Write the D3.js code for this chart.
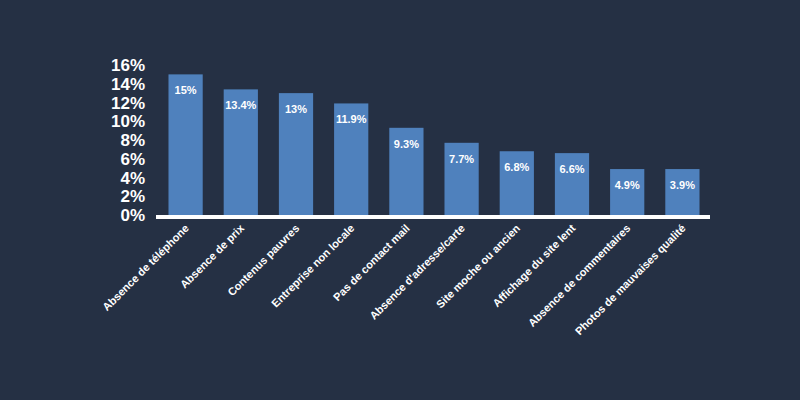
<!DOCTYPE html>
<html><head><meta charset="utf-8">
<script src="https://cdn.jsdelivr.net/npm/d3@7"></script>
<style>
body{margin:0;background:#253044;}
text{font-family:"Liberation Sans",Arial,sans-serif;font-weight:bold;fill:#fff;}
</style></head><body>
<svg id="chart" width="800" height="400"></svg>
<script>
const categories = ["Absence de téléphone","Absence de prix","Contenus pauvres","Entreprise non locale","Pas de contact mail","Absence d'adresse/carte","Site moche ou ancien","Affichage du site lent","Absence de commentaires","Photos de mauvaises qualité"];
// bar heights as drawn in the picture
const values = [15, 13.4, 13, 11.9, 9.3, 7.7, 6.8, 6.6, 4.9, 4.9];
// labels as printed on the bars
const labels = ["15%","13.4%","13%","11.9%","9.3%","7.7%","6.8%","6.6%","4.9%","3.9%"];
const yTicks = [0,2,4,6,8,10,12,14,16];

const svg = d3.select('#chart');
const x = d3.scaleBand().domain(categories).range([158, 710]).paddingInner(0.38).paddingOuter(0.19);
const y = d3.scaleLinear().domain([0, 16]).range([215, 65]);

svg.selectAll('.bar').data(categories).enter().append('rect')
    .attr('x', d => x(d)).attr('y', (d, i) => y(values[i]))
    .attr('width', x.bandwidth()).attr('height', (d, i) => y(0) - y(values[i]))
    .attr('fill', '#4f81bd');

svg.selectAll('.lbl').data(categories).enter().append('text')
    .attr('x', d => x(d) + x.bandwidth() / 2).attr('y', (d, i) => y(values[i]) + 20)
    .attr('text-anchor', 'middle').style('font-size', '11px')
    .text((d, i) => labels[i]);

// y axis labels
svg.selectAll('.yt').data(yTicks).enter().append('text')
    .attr('x', 145).attr('y', d => y(d) + 6)
    .attr('text-anchor', 'end').style('font-size', '17px')
    .text(d => d + '%');

// baseline
svg.append('line').attr('x1', 156).attr('x2', 710).attr('y1', y(0) + 2).attr('y2', y(0) + 2)
    .attr('stroke', '#fff').attr('stroke-width', 4);

// category labels
svg.selectAll('.cat').data(categories).enter().append('text')
    .attr('transform', d => `translate(${x(d) + x.bandwidth() / 2 + 4},${y(0) + 14}) rotate(-45)`)
    .attr('text-anchor', 'end').style('font-size', '11px')
    .text(d => d);
</script>
</body></html>
